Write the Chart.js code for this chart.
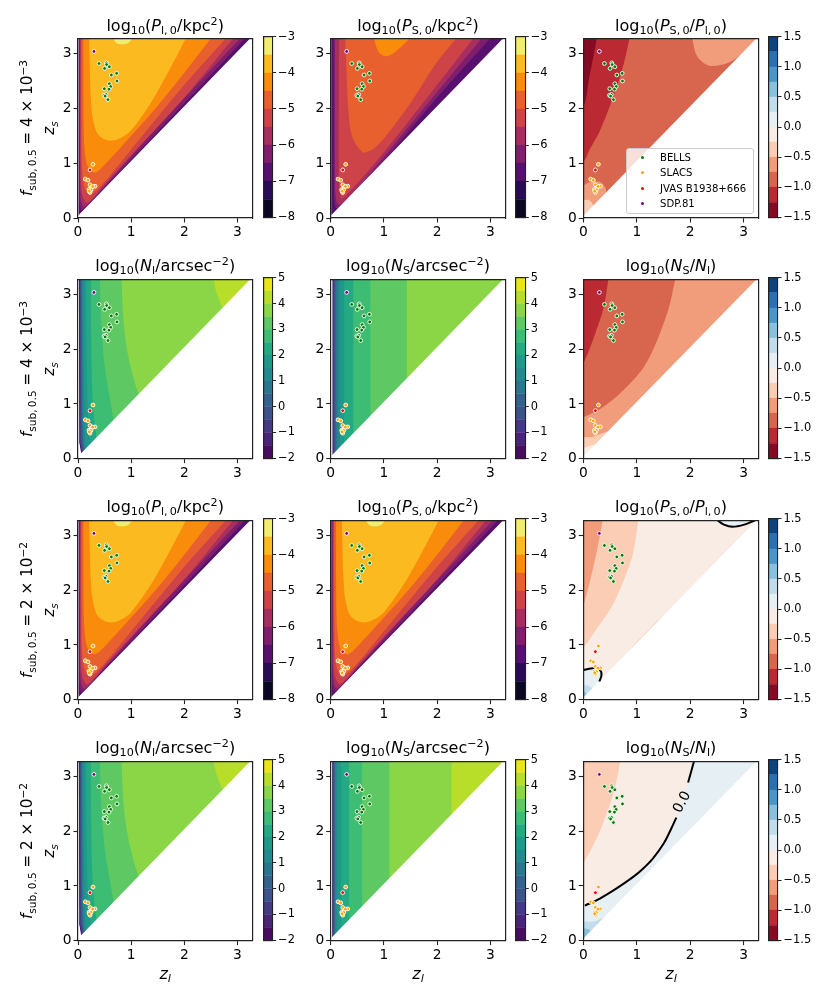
<!DOCTYPE html>
<html><head><meta charset="utf-8">
<script src="https://cdn.jsdelivr.net/npm/chart.js@4"></script>
<style>
html,body{margin:0;padding:0;background:#fff;width:830px;height:997px;overflow:hidden}
#fig{position:relative;width:830px;height:997px;font-family:'DejaVu Sans',sans-serif;color:#000}
canvas{position:absolute}
.t{position:absolute;white-space:nowrap;line-height:1;font-size:16px;transform:translate(-50%,0)}
.r{position:absolute;white-space:nowrap;line-height:1;font-size:15.2px;transform:translate(-50%,-50%) rotate(-90deg)}
sub,sup{font-size:70%;line-height:0}
sub{vertical-align:-.3em}sup{vertical-align:.5em}
#leg{position:absolute;left:626px;top:148px;width:126px;height:64px;background:rgba(255,255,255,.8);border:1px solid #ccc;border-radius:3px;font-size:10.1px}
#leg div{position:absolute;left:33px;line-height:1;white-space:nowrap}
#leg span{position:absolute;width:3px;height:3px;border-radius:50%;left:13.5px}
</style></head><body><div id="fig"></div>
<script>
// ---- colour levels
const INFERNO=['#0a0722','#2a0b57','#57106e','#7f1e6c','#a82e5f','#cd4347','#e8602d','#f98c0a','#fbba1f','#f1ed71'];
const INFERNO_LEVELS=[-8,-7.5,-7,-6.5,-6,-5.5,-5,-4.5,-4,-3.5,-3];
const VIRIDIS=['#470d60','#482576','#443a83','#3b528b','#33638d','#2a768e','#238a8d','#1f9a8a','#24aa83','#3dbc74','#5ec962','#8bd646','#b8de29','#eae51a'];
const VIRIDIS_LEVELS=[-2,-1.5,-1,-.5,0,.5,1,1.5,2,2.5,3,3.5,4,4.5,5];
const RDBU=['#860a24','#bb2a33','#d8664f','#f19d7b','#fbcdb4','#f9ece5','#e6eff4','#c1ddec','#8ac0db','#4a97c6','#2b71b2','#0f437b'];
const RDBU_LEVELS=[-1.5,-1.25,-1,-.75,-.5,-.25,0,.25,.5,.75,1,1.25,1.5];
const P_TICKS=[-8,-7,-6,-5,-4,-3];
const N_TICKS=[-2,-1,0,1,2,3,4,5];
const R_TICKS=[-1.5,-1,-.5,0,.5,1,1.5];
const AXIS_TICKS=[0,1,2,3];
const AXIS_MAX=3.28;
// ---- observed lenses
const BELLS=[[.395,2.82],[.533,2.83],[.54,2.80],[.59,2.76],[.50,2.73],[.627,2.61],[.727,2.64],[.733,2.50],[.59,2.45],[.615,2.40],[.583,2.35],[.495,2.36],[.527,2.255],[.49,2.24],[.51,2.225],[.564,2.16]];
const SLACS=[[.282,.98],[.138,.71],[.188,.69],[.226,.605],[.257,.56],[.32,.58],[.276,.575],[.207,.52],[.245,.515],[.226,.465],[.213,.49]];
const JVAS=[[.226,.877]];
const SDP81=[[.30,3.04]];
// ---- region below the lens = source diagonal, unfilled in every panel
const EMPTY=[[0,.04],[4,4.04],[4,0],[0,0]];
const TR=[3.8,3.8],TL=[-.2,3.8],BL=[-.2,-.2];
// ---- contour regions [band index, boundary]; boundaries run on past the plot edges
const P_L_REGIONS=[
[2,[[.01,3.8],TR,[.01,.04]]],
[3,[[.025,3.8],[.025,.5],[.035,.25],[.07,.14],[.4,.46],[1.5,1.58],[3.14,3.28],[3.5,3.7],TR]],
[4,[[.035,3.8],[.04,.6],[.06,.3],[.12,.2],[.5,.58],[1.5,1.66],[3.05,3.28],[3.45,3.7],TR]],
[5,[[.05,3.8],[.05,.8],[.08,.42],[.18,.28],[.5,.62],[1,1.15],[2,2.2],[2.92,3.28],[3.3,3.7],TR]],
[6,[[.065,3.8],[.07,1],[.11,.6],[.18,.46],[.27,.45],[.5,.66],[1,1.25],[2,2.43],[2.78,3.28],[3.2,3.75],TR]],
[7,[[.1,3.8],[.11,1.5],[.15,1.05],[.22,.87],[.33,.83],[.5,.97],[1,1.5],[1.5,2.05],[2,2.65],[2.5,3.28],[2.9,3.8],TR]],
[8,[[.2,3.8],[.22,2.8],[.24,2.2],[.28,1.8],[.38,1.52],[.6,1.41],[.8,1.46],[1,1.6],[1.4,2.15],[1.8,2.85],[2.04,3.3],[2.3,3.8]]],
[9,[[.56,3.6],[.66,3.28],[.73,3.19],[.83,3.17],[.95,3.2],[1.02,3.28],[1.15,3.6]]]
];
const P_S_REGIONS=[
[2,[[.01,3.8],TR,[.01,.04]]],
[3,[[.055,3.8],[.06,.5],[.08,.22],[.13,.17],[1,1.05],[2,2.2],[3,3.28],[3.4,3.7],TR]],
[4,[[.08,3.8],[.08,.7],[.1,.35],[.15,.24],[.3,.33],[1,1.12],[2,2.3],[2.84,3.28],[3.3,3.8],TR]],
[5,[[.16,3.8],[.15,1],[.16,.6],[.2,.36],[.3,.42],[1,1.2],[2,2.43],[2.68,3.28],[3.1,3.8],TR]],
[6,[[.25,3.8],[.3,2.6],[.33,2],[.4,1.5],[.6,1.2],[.8,1.26],[1,1.45],[1.5,2.1],[2,2.85],[2.37,3.3],[2.7,3.8],TR]],
[7,[[.7,3.8],[.815,3.28],[.9,3.03],[1.04,2.95],[1.2,3.02],[1.48,3.28],[1.9,3.8]]]
];
const P_R_A_REGIONS=[
[2,[TL,TR,BL]],
[3,[[1.98,3.8],[2.04,3.28],[2.13,2.95],[2.35,2.78],[2.7,2.83],[3,3.02],[3.5,3.5],[3.8,3.8]]],
[3,[[-.2,.58],[0,.6],[.1,.65],[.2,.67],[.33,.65],[.41,.55],[.42,.4],BL]],
[4,[[-.2,.33],[0,.33],[.1,.33],[.18,.25],[.19,.15],BL]],
[1,[TL,[.95,3.8],[.865,3.28],[.72,2.68],[.53,2.13],[.31,1.59],[.125,1.26],[.02,1.05],[-.2,.9]]],
[0,[TL,[.3,3.8],[.25,3.28],[.2,3],[.1,2.5],[.02,2.07],[-.2,1.7]]]
];
const N_L_REGIONS=[
[0,[[.015,3.8],TR,[.06,.1],[.025,.3]]],
[1,[[.022,3.8],TR,[.07,.1],[.03,.3]]],
[2,[[.03,3.8],TR,[.08,.1],[.04,.3]]],
[3,[[.04,3.8],TR,[.09,.12],[.05,.3]]],
[4,[[.05,3.8],TR,[.1,.13],[.06,.4]]],
[5,[[.06,3.8],TR,[.11,.15],[.08,.5]]],
[6,[[.08,3.8],[.085,1],[.1,.5],[.13,.17],[.3,.1],TR]],
[7,[[.105,3.8],[.11,1.5],[.13,.7],[.16,.2],[.3,.05],TR]],
[8,[[.15,3.8],[.16,2],[.18,1],[.24,.28],[.3,.05],TR]],
[9,[[.24,3.8],[.25,2],[.28,1],[.35,.39],[.42,.1],TR]],
[10,[[.4,3.8],[.43,2.6],[.5,1.7],[.6,1.1],[.67,.71],[.75,.3],TR]],
[11,[[.8,3.8],[.85,2.6],[.92,2],[1.05,1.45],[1.14,1.18],[1.3,.8],TR]],
[12,[[2.45,3.8],[2.55,3.28],[2.6,3.05],[2.72,2.76],[2.9,2.4],TR]]
];
const N_S_A_EDGES=[[0,.035],[1,.04],[2,.05],[3,.06],[4,.075],[5,.095],[6,.125],[7,.175],[8,.255],[9,.425],[10,.745],[11,1.43]];
const N_S_B_EDGES=[[0,.03],[1,.035],[2,.04],[3,.05],[4,.06],[5,.07],[6,.09],[7,.125],[8,.195],[9,.345],[10,.59],[11,1.10],[12,2.27]];
const N_R_A_REGIONS=[
[3,[TL,TR,BL]],
[2,[TL,[1.85,3.8],[1.72,3.28],[1.6,2.76],[1.38,2.16],[1.13,1.67],[.75,1.25],[.38,.95],[.03,.77],[-.2,.7]]],
[1,[TL,[.55,3.8],[.47,3.28],[.38,2.76],[.22,2.28],[.03,1.8],[-.2,1.4]]],
[4,[[-.2,.38],[0,.39],[.19,.4],[.41,.48],[.6,.5],[.3,-.1],BL]],
[5,[[-.2,.2],[0,.2],[.1,.22],[.17,.25],[.3,.25],[.2,-.1],BL]]
];
const P_R_B_REGIONS=[
[5,[TL,TR,BL]],
[4,[[.85,.8],[.85,.89],[1.2,1.255],[1.5,1.54],[1.5,1.4]]],
[4,[TL,[1.1,3.8],[1.03,3.28],[.91,2.6],[.56,1.75],[.19,1.21],[.02,.97],[-.2,.75]]],
[3,[TL,[.42,3.8],[.36,3.28],[.25,2.7],[.02,1.78],[-.2,1.3]]],
[6,[[-.2,.5],[0,.54],[.19,.575],[.31,.54],[.34,.45],[.3,.33],[.25,.1],BL]],
[7,[[-.2,.27],[0,.27],[.12,.24],[.17,.2],[.17,.1],BL]],
[8,[[-.2,.15],[0,.15],[.05,.12],[.06,.08],BL]],
[6,[[2.2,3.7],[2.51,3.28],[2.63,3.2],[2.79,3.16],[3.01,3.2],[3.21,3.28],[3.6,3.6],TR]]
];
const P_R_B_ZERO=[[[0,.54],[.19,.575],[.31,.54],[.34,.45],[.3,.33]],[[2.51,3.28],[2.63,3.2],[2.79,3.16],[3.01,3.2],[3.21,3.28]]];
const N_R_B_REGIONS=[
[6,[TL,TR,BL]],
[5,[TL,[2.15,3.8],[2.07,3.28],[1.96,2.89],[1.74,2.25],[1.65,2.06],[1.5,1.77],[1.3,1.5],[1.1,1.3],[.94,1.17],[.63,.96],[.31,.77],[.03,.64],[-.2,.55]]],
[4,[TL,[.75,3.8],[.69,3.28],[.56,2.68],[.31,2],[.02,1.44],[-.2,1.1]]],
[7,[[-.2,.35],[0,.35],[.19,.35],[.35,.41],[.6,.5],[.35,-.1],BL]],
[8,[[-.2,.22],[0,.22],[.12,.2],[.16,.1],BL]]
];
const N_R_B_ZERO=[[[.03,.64],[.31,.77],[.63,.96],[.94,1.17],[1.1,1.3],[1.3,1.5],[1.5,1.77],[1.65,2.06],[1.74,2.25]],[[1.96,2.89],[2.07,3.28]]];
const CONTOUR_LABEL=[1.85,2.53,'0.0'];
// ---- page geometry
const COL_L=[78,330.7,583.3],COL_W=[174.4,174.6,175.4],ROW_T=[36.7,277.3,518.3,759.3],ROW_H=181.3;
const BAR_L=[263.3,516,768.7],BAR_W=9.3;
const fig=document.getElementById('fig');
const INK='#222';
function mk(l,t,w,h){const c=document.createElement('canvas');const L=Math.floor(l),T=Math.floor(t);
  c.style.left=L+'px';c.style.top=T+'px';c.style.width=w+'px';c.style.height=h+'px';c.width=w;c.height=h;fig.appendChild(c);return c;}
const toPts=a=>a.map(p=>({x:p[0],y:p[1]}));
function edgesToRegions(edges){return edges.map(e=>[e[0],[[e[1],3.8],TR,[e[1],0]]]);}
function spine(pos){return {position:pos,display:true,ticks:{display:false},grid:{display:false},border:{display:true,color:INK,width:1.2,z:2},afterFit(s){if(pos==='top'||pos==='bottom')s.height=0;else s.width=0;}};}
function panel(col,row,colors,regions,zero,label){
  const L=COL_L[col],T=ROW_T[row],W=COL_W[col],H=ROW_H;
  const cl=Math.floor(L)-44,ct=Math.floor(T)-8,yw=L-cl,top=T-ct;
  const cw=Math.ceil(yw+W+8),ch=Math.ceil(top+H+38);
  const c=mk(cl,ct,cw,ch);
  const ds=[];
  regions.forEach(r=>ds.push({type:'line',data:toPts(r[1]),backgroundColor:colors[r[0]],borderWidth:0,fill:'shape',pointRadius:0,tension:r[1].length>4?.3:0}));
  ds.push({type:'line',data:toPts(EMPTY),backgroundColor:'#fff',borderWidth:0,fill:'shape',pointRadius:0,tension:0});
  (zero||[]).forEach(z=>ds.push({type:'line',data:toPts(z),borderColor:'#000',borderWidth:2,fill:false,pointRadius:0,tension:.35}));
  [[BELLS,'#008000'],[SLACS,'#ffa500'],[JVAS,'#ff0000'],[SDP81,'#800080']].forEach(s=>
    ds.push({type:'scatter',data:toPts(s[0]),backgroundColor:s[1],borderColor:'#fff',borderWidth:.9,pointRadius:1.9,showLine:false}));
  ds.forEach((d,i)=>d.order=ds.length-i);
  const tk=(axis)=>({type:'linear',min:0,max:AXIS_MAX,position:axis,
    afterBuildTicks(s){s.ticks=AXIS_TICKS.map(v=>({value:v}));},
    ticks:{autoSkip:false,maxRotation:0,font:{family:'DejaVu Sans',size:13.8},color:'#000',padding:2,callback:v=>String(v)},
    grid:{display:true,drawOnChartArea:false,tickLength:4.5,tickColor:INK,tickWidth:1.1},
    border:{display:true,color:INK,width:1.2,z:2},
    afterFit(s){if(axis==='left')s.width=yw;else s.height=ch-top-H;}});
  const plugins=[];
  if(label)plugins.push({id:'lab',afterDatasetsDraw(ch){const x=ch.scales.x.getPixelForValue(label[0]),y=ch.scales.y.getPixelForValue(label[1]);
    const g=ch.ctx;g.save();g.translate(x,y);g.rotate(-62*Math.PI/180);g.font="14px 'DejaVu Sans'";g.fillStyle='#000';g.textAlign='center';g.textBaseline='middle';g.fillText(label[2],0,0);g.restore();}});
  new Chart(c,{type:'scatter',data:{datasets:ds},plugins,options:{responsive:false,animation:false,devicePixelRatio:1,
    elements:{line:{capBezierPoints:false}},
    layout:{autoPadding:false,padding:{top,right:cw-yw-W,left:0,bottom:0}},
    plugins:{legend:{display:false},tooltip:{enabled:false},title:{display:false}},
    scales:{x:tk('bottom'),y:tk('left'),x2:spine('top'),y2:spine('right')}}});
}
function colorbar(col,row,levels,colors,ticks,fix){
  const L=BAR_L[col],T=ROW_T[row],H=ROW_H;
  const cl=Math.floor(L)-2,ct=Math.floor(T)-8,xl=L-cl,top=T-ct;
  const cw=Math.ceil(xl+BAR_W+44),ch=Math.ceil(top+H+8);
  const c=mk(cl,ct,cw,ch);
  const ds=colors.map((col,i)=>({type:'line',data:[{x:0,y:levels[i]},{x:1,y:levels[i]},{x:1,y:levels[i+1]},{x:0,y:levels[i+1]}],backgroundColor:col,borderColor:col,borderWidth:.3,fill:'shape',pointRadius:0,tension:0}));
  new Chart(c,{type:'scatter',data:{datasets:ds},options:{responsive:false,animation:false,devicePixelRatio:1,
    layout:{autoPadding:false,padding:{top,left:xl,right:0,bottom:ch-top-H}},
    plugins:{legend:{display:false},tooltip:{enabled:false}},
    scales:{
     x:Object.assign(spine('bottom'),{type:'linear',min:0,max:1}),
     x2:Object.assign(spine('top'),{type:'linear'}),
     y2:Object.assign(spine('left'),{type:'linear'}),
     y:{type:'linear',position:'right',min:levels[0],max:levels[levels.length-1],
      afterBuildTicks(s){s.ticks=ticks.map(v=>({value:v}));},
      ticks:{autoSkip:false,font:{family:'DejaVu Sans',size:11.4},color:'#000',padding:2,
        callback:v=>(v<0?'\u2212':'')+(fix?Math.abs(v).toFixed(1):String(Math.abs(v)))},
      grid:{display:true,drawOnChartArea:false,tickLength:3.5,tickColor:INK,tickWidth:1},
      border:{display:true,color:INK,width:1.1,z:2},
      afterFit(s){s.width=cw-xl-BAR_W;}}}}});
}
function text(cls,x,y,html){const d=document.createElement('div');d.className=cls;d.style.left=x+'px';d.style.top=y+'px';d.innerHTML=html;fig.appendChild(d);return d;}
// ---- text of the figure
const T_PL='log<sub>10</sub>(<i>P</i><sub>l,\u20090</sub>/kpc<sup>2</sup>)';
const T_PS='log<sub>10</sub>(<i>P</i><sub>S,\u20090</sub>/kpc<sup>2</sup>)';
const T_PR='log<sub>10</sub>(<i>P</i><sub>S,\u20090</sub>/<i>P</i><sub>l,\u20090</sub>)';
const T_NL='log<sub>10</sub>(<i>N</i><sub>l</sub>/arcsec<sup>\u22122</sup>)';
const T_NS='log<sub>10</sub>(<i>N</i><sub>S</sub>/arcsec<sup>\u22122</sup>)';
const T_NR='log<sub>10</sub>(<i>N</i><sub>S</sub>/<i>N</i><sub>l</sub>)';
const ROW_LABELS=['4 \u00d7 10<sup>\u22123</sup>','4 \u00d7 10<sup>\u22123</sup>','2 \u00d7 10<sup>\u22122</sup>','2 \u00d7 10<sup>\u22122</sup>'];
const LEGEND_NAMES=['BELLS','SLACS','JVAS B1938+666','SDP.81'];
const LEGEND_COLORS=['#008000','#ffa500','#ff0000','#800080'];
const LAYOUT=[
 [[INFERNO,P_L_REGIONS,T_PL],[INFERNO,P_S_REGIONS,T_PS],[RDBU,P_R_A_REGIONS,T_PR]],
 [[VIRIDIS,N_L_REGIONS,T_NL],[VIRIDIS,edgesToRegions(N_S_A_EDGES),T_NS],[RDBU,N_R_A_REGIONS,T_NR]],
 [[INFERNO,P_L_REGIONS,T_PL],[INFERNO,P_L_REGIONS,T_PS],[RDBU,P_R_B_REGIONS,T_PR,P_R_B_ZERO]],
 [[VIRIDIS,N_L_REGIONS,T_NL],[VIRIDIS,edgesToRegions(N_S_B_EDGES),T_NS],[RDBU,N_R_B_REGIONS,T_NR,N_R_B_ZERO,CONTOUR_LABEL]]
];
LAYOUT.forEach((rowSpec,r)=>{rowSpec.forEach((s,c)=>{
  panel(c,r,s[0],s[1],s[3],s[4]);
  if(s[0]===INFERNO)colorbar(c,r,INFERNO_LEVELS,INFERNO,P_TICKS,false);
  else if(s[0]===VIRIDIS)colorbar(c,r,VIRIDIS_LEVELS,VIRIDIS,N_TICKS,false);
  else colorbar(c,r,RDBU_LEVELS,RDBU,R_TICKS,true);
  text('t',COL_L[c]+COL_W[c]/2,ROW_T[r]-19,s[2]);
});
  const mid=ROW_T[r]+ROW_H/2+1;
  text('r',28,mid,'<i>f</i><sub>sub,\u20090.5</sub> = '+ROW_LABELS[r]);
  text('r',50,mid,'<i>z</i><sub><i>s</i></sub>');
});
COL_L.forEach((l,c)=>text('t',l+COL_W[c]/2,966,'<i>z</i><sub><i>l</i></sub>'));
const leg=document.createElement('div');leg.id='leg';
LEGEND_NAMES.forEach((n,i)=>{const y=4+i*15.3;
  leg.innerHTML+=`<span style="top:${y+3}px;background:${LEGEND_COLORS[i]}"></span><div style="top:${y}px">${n}</div>`;});
fig.appendChild(leg);
</script></body></html>
